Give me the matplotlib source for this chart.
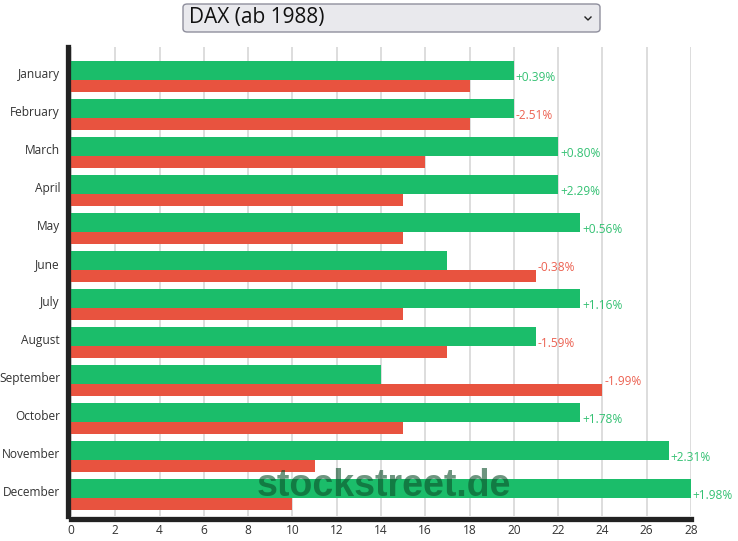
import matplotlib
matplotlib.use("Agg")
import matplotlib.pyplot as plt
from matplotlib.patches import FancyBboxPatch
from matplotlib.lines import Line2D
import numpy as np

months = ["January", "February", "March", "April", "May", "June", "July",
          "August", "September", "October", "November", "December"]
up_years = [20, 20, 22, 22, 23, 17, 23, 21, 14, 23, 27, 28]
down_years = [18, 18, 16, 15, 15, 21, 15, 17, 24, 15, 11, 10]
avg_change = ["+0.39%", "-2.51%", "+0.80%", "+2.29%", "+0.56%", "-0.38%", "+1.16%",
              "-1.59%", "-1.99%", "+1.78%", "+2.31%", "+1.98%"]
xticks = list(range(0, 29, 2))

GREEN = "#1bbd6a"
RED = "#e8533f"
GREEN_TXT = "#34c173"
RED_TXT = "#ec6252"

plt.rcParams['font.family'] = ['Open Sans', 'DejaVu Sans']

fig = plt.figure(figsize=(7.38, 5.41), dpi=100)
ax = fig.add_axes([71 / 738, 25 / 541, 620 / 738, 469 / 541])

y = np.arange(len(months))
ax.barh(y - 0.158, up_years, height=0.5, color=GREEN, zorder=2)
ax.barh(y + 0.25, down_years, height=0.316, color=RED, zorder=2)

for i, lab in enumerate(avg_change):
    xpos = max(up_years[i], down_years[i]) + 0.08
    col = GREEN_TXT if lab.startswith("+") else RED_TXT
    ax.text(xpos, i + 0.02, lab, color=col, fontsize=8.6, va="center", ha="left", zorder=3)

ax.set_xlim(0, 28)
ax.set_ylim(11.566, -0.776)
ax.set_xticks(xticks)
ax.set_yticks(y - 0.09)
ax.set_yticklabels(months)
ax.tick_params(axis="both", length=0, labelsize=8.6, colors="#333333")
ax.tick_params(axis="x", pad=4)
ax.tick_params(axis="y", pad=6)
ax.grid(axis="x", color="#d3d3d3", linewidth=1.1, zorder=0)
ax.set_axisbelow(True)

for s in ["top", "right"]:
    ax.spines[s].set_visible(False)
for s in ["left", "bottom"]:
    ax.spines[s].set_color("#222222")
    ax.spines[s].set_linewidth(3.8)
    ax.spines[s].set_position(("outward", 1.9))

# watermark
ax.text(0.505, 0.063, "stockstreet.de", transform=ax.transAxes, ha="center", va="center",
        fontsize=27, fontweight="bold", family="Liberation Sans", color="#0c4f2a",
        alpha=0.6, zorder=5)

# dropdown box
box = FancyBboxPatch((183 / 738, 1 - 32 / 541), 417 / 738, 28 / 541,
                     boxstyle="round,pad=0,rounding_size=0.006",
                     transform=fig.transFigure, facecolor="#e9e9ed",
                     edgecolor="#8f8f9d", linewidth=1)
fig.patches.append(box)
fig.text(189 / 738, 1 - 18 / 541, "DAX (ab 1988)", fontsize=15, va="center", ha="left",
         color="#111111")
fig.lines.append(Line2D([585 / 738, 588 / 738, 591 / 738],
                        [1 - 17 / 541, 1 - 20 / 541, 1 - 17 / 541],
                        transform=fig.transFigure, color="#222222", linewidth=1))

fig.savefig("out.png", dpi=100)
